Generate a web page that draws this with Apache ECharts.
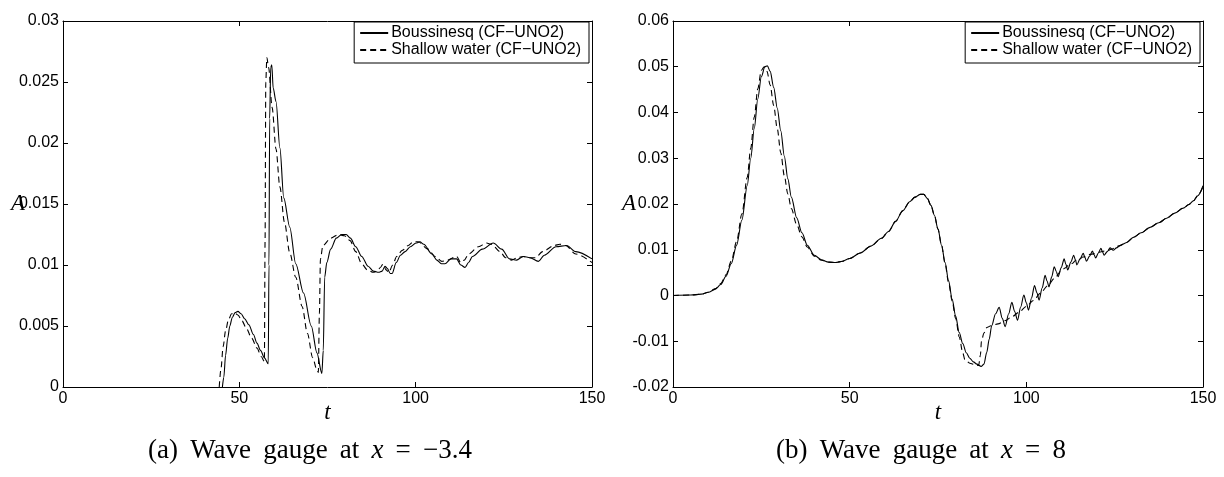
<!DOCTYPE html>
<html>
<head>
<meta charset="utf-8">
<script src="https://cdn.jsdelivr.net/npm/echarts@6/dist/echarts.min.js"></script>
<style>
html,body{margin:0;padding:0;background:#fff;}
#chart{width:1224px;height:477px;}
</style>
</head>
<body>
<div id="chart"></div>
<script>
// ---------- Panel (a): wave gauge at x = -3.4 ----------
const a_bous_t = [45.2,45.6,46.1,46.7,47.3,48.0,48.8,49.6,50.5,51.5,52.7,54.0,55.0,56.0,57.1,58.2,58.4,58.6,58.9,59.2,59.6,60.4,61.5,62.6,64.3,66.0,68.2,70.4,72.0,73.4,73.8,74.2,74.8,75.9,77.5,79.0,80.3,81.5,83.0,84.7,86.5,88.0,89.5,90.5,91.3,92.0,92.8,93.3,94.5,95.7,97.0,98.5,100.1,101.2,102.3,104.6,106.0,107.3,108.3,110.0,111.6,112.8,114.0,115.0,116.1,118.9,122.0,124.4,126.6,128.6,130.5,132.4,134.8,136.5,139.8,142.8,145.4,150];
const a_bous_A = [0,0.0008,0.0026,0.0040,0.0050,0.0057,0.0061,0.0062,0.0060,0.0056,0.0051,0.0043,0.0036,0.0030,0.0024,0.0019,0.0100,0.0220,0.0262,0.0264,0.0245,0.0234,0.0196,0.0155,0.0131,0.0101,0.0077,0.0050,0.0028,0.0011,0.0030,0.0090,0.0102,0.0113,0.0122,0.0125,0.0125,0.0122,0.0115,0.0107,0.0099,0.0095,0.0094,0.0095,0.0099,0.0097,0.0093,0.0093,0.0102,0.0108,0.0111,0.0115,0.0118,0.0119,0.0117,0.0109,0.0104,0.0101,0.0101,0.0105,0.0105,0.0100,0.0098,0.0102,0.0107,0.0113,0.0118,0.0113,0.0105,0.0104,0.0107,0.0106,0.0103,0.0108,0.0115,0.0116,0.0111,0.0105];
const a_sw_t = [44.3,44.8,45.4,46.1,46.9,47.8,48.6,49.6,50.8,52.0,53.5,55.0,56.2,57.1,57.3,57.5,57.8,58.3,59.3,60.4,61.5,62.8,64.3,66.0,67.8,69.3,70.8,72.0,72.4,72.7,73.0,73.7,75.9,78.1,79.8,81.4,83.0,84.7,86.3,88.0,89.1,90.0,90.8,91.6,92.4,93.5,94.6,96.2,97.9,99.3,100.7,103.5,105.5,107.4,109.0,111.6,112.8,113.8,115.0,117.8,120.1,121.5,123.9,125.5,127.2,128.8,130.5,132.4,134.0,136.0,139.3,140.9,142.5,145.4,150];
const a_sw_A = [0,0.0015,0.0033,0.0046,0.0055,0.0060,0.0061,0.0059,0.0054,0.0048,0.0040,0.0032,0.0025,0.0021,0.0120,0.0250,0.0270,0.0262,0.0229,0.0195,0.0164,0.0135,0.0110,0.0090,0.0066,0.0044,0.0024,0.0014,0.0012,0.0060,0.0105,0.0116,0.0122,0.0125,0.0124,0.0120,0.0111,0.0101,0.0096,0.0094,0.0095,0.0098,0.0101,0.0096,0.0094,0.0100,0.0107,0.0112,0.0116,0.0119,0.0119,0.0113,0.0107,0.0103,0.0104,0.0107,0.0102,0.0104,0.0109,0.0115,0.0118,0.0117,0.0111,0.0106,0.0104,0.0106,0.0107,0.0106,0.0106,0.0111,0.0116,0.0117,0.0116,0.0109,0.0102];

// ---------- Panel (b): wave gauge at x = 8 ----------
const b_bous_t = [0,5,8,10,12,13.5,15,16.5,18,19.5,21,22,23,24,25,26,26.7,27.5,28.5,29.5,30.5,31.5,32.5,33.5,35,36.5,38,40,42,44,46,48,50,53,56,59,61,63,65,67,68.5,70,71,72,73,74,75,76,77,78,79,80,81,82,83,84,85,86,87.2,88.0,88.8,89.5,90.2,91.3,92.3,93.2,94.0,95.0,95.9,96.7,97.5,98.4,99.3,100.0,100.6,101.5,102.3,103.0,103.6,104.5,105.3,105.9,106.4,107.2,107.9,108.5,109.0,109.9,110.7,111.2,111.7,112.6,113.4,113.9,114.3,115.2,116.1,116.6,117.0,117.9,118.7,119.2,119.6,120.4,121.1,121.6,122.0,122.9,123.7,124.6,125.5,126.5,128.4,130.3,132.5,135,137.5,139.7,142,144.4,146,147.3,148.5,150];
const b_bous_A = [0,0.0001,0.0003,0.0007,0.0014,0.0024,0.0042,0.0070,0.0110,0.0165,0.0240,0.0300,0.0365,0.0430,0.0478,0.0500,0.0502,0.0490,0.0455,0.0410,0.0360,0.0305,0.0255,0.0215,0.0170,0.0137,0.0110,0.0088,0.0078,0.0073,0.0072,0.0075,0.0081,0.0093,0.0108,0.0125,0.0140,0.0162,0.0185,0.0205,0.0215,0.0221,0.0221,0.0212,0.0197,0.0175,0.0145,0.0110,0.0072,0.0032,-0.0008,-0.0045,-0.0081,-0.0105,-0.0125,-0.0137,-0.0145,-0.0150,-0.0155,-0.0150,-0.0124,-0.0095,-0.0066,-0.0040,-0.0026,-0.0050,-0.0068,-0.0040,-0.0015,-0.0035,-0.0054,-0.0025,0.0001,-0.0016,-0.0032,-0.0005,0.0022,0.0006,-0.0010,0.0017,0.0044,0.0031,0.0019,0.0041,0.0063,0.0052,0.0041,0.0061,0.0080,0.0068,0.0056,0.0073,0.0088,0.0078,0.0067,0.0080,0.0092,0.0083,0.0075,0.0086,0.0097,0.0089,0.0082,0.0093,0.0103,0.0095,0.0088,0.0096,0.0104,0.0099,0.0104,0.0109,0.0116,0.0127,0.0137,0.0149,0.0159,0.0169,0.0180,0.0191,0.0199,0.0207,0.0218,0.0240];
const b_sw_t = [0,5,8,10,12,13.5,15,16.5,18,19.5,21,22,23,24,25,25.8,26.6,27.5,28.5,29.5,30.5,31.5,32.5,33.5,35,36.5,38,40,42,44,46,48,50,53,56,59,61,63,65,67,68.5,70,71,72,73,74,75,76,77,78,79,80,81,82,82.6,84,85.5,86.5,87.0,87.3,88,88.8,90,92,94,96,98,100,102,104,106,108,110,111,112,113,114,115,116,117,118,119,120,121,122,123,124,126,128.4,130.3,132.5,135,137.5,139.7,142,144.4,146,147.3,148.5,150];
const b_sw_A = [0,0.0001,0.0003,0.0007,0.0015,0.0026,0.0045,0.0075,0.0118,0.0178,0.0258,0.0322,0.0390,0.0452,0.0492,0.0500,0.0490,0.0460,0.0415,0.0365,0.0312,0.0262,0.0222,0.0190,0.0155,0.0128,0.0106,0.0086,0.0077,0.0073,0.0072,0.0075,0.0081,0.0093,0.0108,0.0125,0.0140,0.0162,0.0185,0.0205,0.0215,0.0221,0.0221,0.0212,0.0197,0.0175,0.0145,0.0110,0.0070,0.0028,-0.0012,-0.0050,-0.0090,-0.0125,-0.0140,-0.0148,-0.0151,-0.0153,-0.0130,-0.0100,-0.0082,-0.0070,-0.0066,-0.0062,-0.0055,-0.0046,-0.0036,-0.0024,-0.0011,0.0005,0.0021,0.0038,0.0055,0.0060,0.0067,0.0070,0.0077,0.0079,0.0084,0.0085,0.0090,0.0091,0.0094,0.0095,0.0097,0.0098,0.0101,0.0108,0.0116,0.0127,0.0137,0.0149,0.0159,0.0169,0.0180,0.0191,0.0199,0.0207,0.0218,0.0238];

const xTicks = {min: 0, max: 150, interval: 50};
const yA = {min: 0, max: 0.03, interval: 0.005};
const yB = {min: -0.02, max: 0.06, interval: 0.01};
const seriesNames = ['Boussinesq (CF\u2212UNO2)', 'Shallow water (CF\u2212UNO2)'];
const captions = ['(a) \u2009Wave \u2009gauge \u2009at \u2009{i|x} \u2009= \u2009\u22123.4', '(b) \u2009Wave \u2009gauge \u2009at \u2009{i|x} \u2009= \u20098'];

const zip = (t, a) => t.map((v, i) => [v, a[i]]);

const tickFont = {color: '#000', fontSize: 16, fontFamily: 'Liberation Sans, Arial, sans-serif'};
const nameFont = {color: '#000', fontSize: 23, fontStyle: 'italic', fontFamily: 'Liberation Serif, serif'};

function xAxes(grid) {
  return [
    {type: 'value', gridIndex: grid, position: 'bottom', min: xTicks.min, max: xTicks.max, interval: xTicks.interval,
     axisLine: {onZero: false, lineStyle: {color: '#000', width: 1}}, axisTick: {inside: true, length: 5, lineStyle: {color: '#000'}},
     axisLabel: Object.assign({margin: 4}, tickFont), splitLine: {show: false},
     name: 't', nameLocation: 'middle', nameGap: 14, nameMoveOverlap: false, nameTextStyle: nameFont},
    {type: 'value', gridIndex: grid, position: 'top', min: xTicks.min, max: xTicks.max, interval: xTicks.interval,
     axisLine: {onZero: false, lineStyle: {color: '#000', width: 1}}, axisTick: {inside: true, length: 5, lineStyle: {color: '#000'}},
     axisLabel: {show: false}, splitLine: {show: false}}
  ];
}
function yAxes(grid, r, gap) {
  return [
    {type: 'value', gridIndex: grid, position: 'left', min: r.min, max: r.max, interval: r.interval,
     axisLine: {show: true, onZero: false, lineStyle: {color: '#000', width: 1}}, axisTick: {show: true, inside: true, length: 5, lineStyle: {color: '#000'}},
     axisLabel: Object.assign({margin: 4}, tickFont), splitLine: {show: false},
     name: 'A', nameLocation: 'middle', nameRotate: 0, nameGap: gap, nameMoveOverlap: false, nameTextStyle: nameFont},
    {type: 'value', gridIndex: grid, position: 'right', min: r.min, max: r.max, interval: r.interval,
     axisLine: {show: true, onZero: false, lineStyle: {color: '#000', width: 1}}, axisTick: {show: true, inside: true, length: 5, lineStyle: {color: '#000'}},
     axisLabel: {show: false}, splitLine: {show: false}}
  ];
}
function line(name, data, xi, yi, dashed) {
  return {type: 'line', name: name, data: data, xAxisIndex: xi, yAxisIndex: yi,
    showSymbol: false, symbol: 'none', smooth: 0.3, smoothMonotone: 'x', animation: false,
    lineStyle: {color: '#000', width: 1.1, type: dashed ? [6, 4] : 'solid'}, itemStyle: {color: '#000', opacity: 0}};
}
function legend(right) {
  return {orient: 'vertical', right: right, top: 22, data: seriesNames,
    backgroundColor: '#fff', borderColor: '#000', borderWidth: 1, padding: [3, 8, 5, 5],
    itemWidth: 28, itemHeight: 16, itemGap: 1, selectedMode: false,
    itemStyle: {opacity: 0},
    textStyle: {color: '#000', fontSize: 16, fontFamily: 'Liberation Sans, Arial, sans-serif', padding: [0, 0, 0, -2]}};
}

const chart = echarts.init(document.getElementById('chart'), null, {renderer: 'canvas'});
chart.setOption({
  backgroundColor: '#fff',
  animation: false,
  grid: [
    {left: 63, top: 21, width: 529, height: 366},
    {left: 673, top: 21, width: 530, height: 366}
  ],
  xAxis: [].concat(xAxes(0), xAxes(1)),
  yAxis: [].concat(yAxes(0, yA, 38), yAxes(1, yB, 37)),
  legend: [legend(1224 - 589), legend(1224 - 1200)],
  series: [
    line(seriesNames[0], zip(a_bous_t, a_bous_A), 0, 0, false),
    line(seriesNames[1], zip(a_sw_t, a_sw_A), 0, 0, true),
    line(seriesNames[0], zip(b_bous_t, b_bous_A), 2, 2, false),
    line(seriesNames[1], zip(b_sw_t, b_sw_A), 2, 2, true)
  ],
  graphic: captions.map((c, i) => ({
    type: 'text', x: i === 0 ? 310 : 921, y: 451,
    style: {text: c, fill: '#000', font: '27px "Liberation Serif", serif', align: 'center', verticalAlign: 'middle',
      rich: {i: {fontStyle: 'italic', fontSize: 27, fontFamily: 'Liberation Serif', fill: '#000'}}}
  }))
});
</script>
</body>
</html>
